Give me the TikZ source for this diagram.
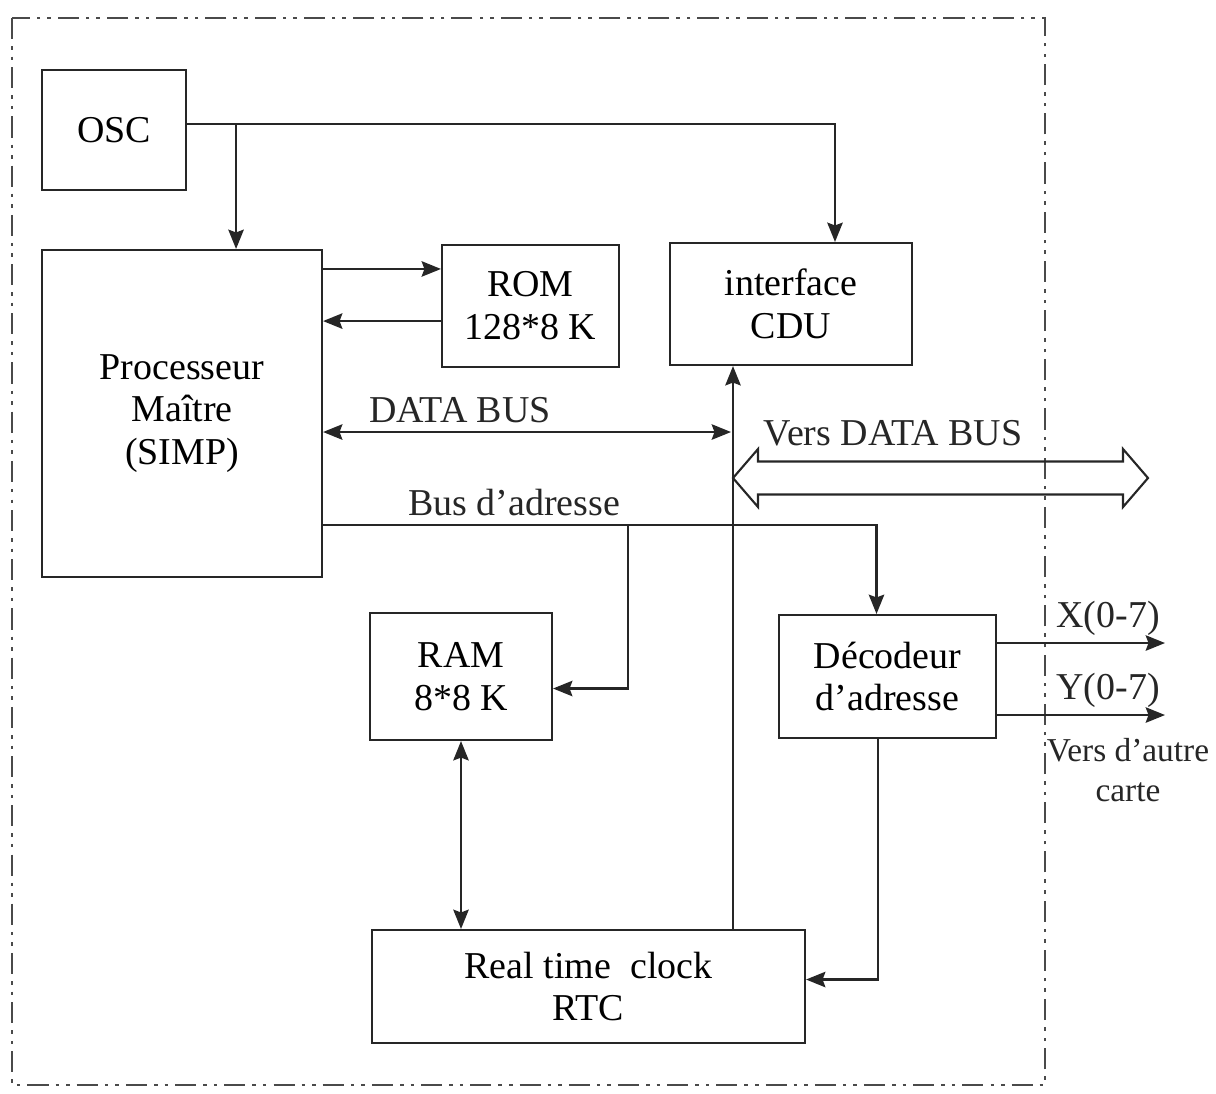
\documentclass[tikz,border=0pt]{standalone}
\usepackage{fontspec}
\setmainfont{Liberation Serif}
\usepackage{xcolor}
\usetikzlibrary{arrows.meta,positioning,calc}
\definecolor{ink}{HTML}{262626}
\definecolor{frame}{HTML}{4A4A4A}
\tikzset{
  blockbox/.style={
    rectangle, draw=ink, line width=0.6pt,
    minimum width=#1, align=center,
    font=\fontsize{10.8}{12.2}\selectfont, inner sep=2pt
  },
  blockbox/.default=2cm,
  sigarrow/.style={
    -{Stealth[length=5.5pt, width=4.4pt, inset=0.8pt]}, line width=0.6pt, color=ink
  },
  sigboth/.style={
    {Stealth[length=5.5pt, width=4.4pt, inset=0.8pt]}-{Stealth[length=5.5pt, width=4.4pt, inset=0.8pt]},
    line width=0.6pt, color=ink
  },
  hollowbus/.style={draw=ink, line width=0.6pt, line join=miter},
  labelnode/.style={
    font=\fontsize{10.8}{12.2}\selectfont, color=ink, align=center, inner sep=1pt
  },
  boardframe/.style={
    draw=frame, line width=0.5pt,
    dash pattern=on 6pt off 2pt on 1pt off 2pt on 1pt off 2pt
  },
}
\begin{document}
\begin{tikzpicture}
  \useasboundingbox (0,0) rectangle (12.16,-10.93);
  \draw[boardframe] (0.12,-0.18) rectangle (10.45,-10.85);
  \node[blockbox=1.44cm, minimum height=1.20cm] at (1.14,-1.30) (osc) {OSC};
  \node[blockbox=2.80cm, minimum height=3.27cm] at (1.82,-4.135) (proc) {Processeur\\Maître\\(SIMP)};
  \node[blockbox=1.77cm, minimum height=1.22cm] at (5.305,-3.06) (rom) {ROM\\128*8 K};
  \node[blockbox=2.42cm, minimum height=1.22cm] at (7.91,-3.04) (cdu) {interface\\CDU};
  \node[blockbox=1.82cm, minimum height=1.27cm] at (4.61,-6.765) (ram) {RAM\\8*8 K};
  \node[blockbox=2.17cm, minimum height=1.23cm] at (8.875,-6.765) (dec) {Décodeur\\d'adresse};
  \node[blockbox=4.33cm, minimum height=1.13cm] at (5.885,-9.865) (rtc) {Real time\ \ clock\\RTC};
  % horloge
  \draw[sigarrow] ([yshift=0.06cm]osc.east) -| ([xshift=0.44cm]cdu.north);
  \draw[sigarrow] ([xshift=0.49cm, yshift=0.06cm]osc.east) -- ([xshift=0.49cm]osc.east |- proc.north);
  % ROM
  \draw[sigarrow] ([yshift=-0.25cm]rom.north west -| proc.east) -- ([yshift=-0.25cm]rom.north west);
  \draw[sigarrow] ([yshift=0.47cm]rom.south west) -- ([yshift=0.47cm]rom.south west -| proc.east);
  % bus de donnees
  \coordinate (db) at (7.31,-4.32);
  \draw[sigboth] (db -| proc.east) -- (db);
  \node[labelnode] at (4.60,-4.10) (dblabel) {DATA BUS};
  \draw[sigarrow] ([xshift=-0.58cm]cdu.south |- rtc.north) -- ([xshift=-0.58cm]cdu.south);
  \coordinate (vb) at (7.33,-4.78);
  \draw[hollowbus] (vb) -- ++(0.25,0.29) -- ++(0,-0.125) -- ++(3.65,0) -- ++(0,0.125)
    -- ++(0.25,-0.29) -- ++(-0.25,-0.29) -- ++(0,0.125) -- ++(-3.65,0) -- ++(0,-0.125) -- cycle;
  \node[labelnode] at (8.93,-4.33) (vblabel) {Vers DATA BUS};
  % bus d'adresse
  \coordinate (ab) at (6.28,-5.25);
  \draw[sigarrow] (ab -| proc.east) -| ([xshift=-0.11cm]dec.north);
  \draw[sigarrow] (ab) |- ([yshift=-0.12cm]ram.east);
  \node[labelnode] at (5.14,-5.02) (ablabel) {Bus d'adresse};
  \draw[sigboth] (ram.south) -- (ram.south |- rtc.north);
  \draw[sigarrow] ([xshift=-0.095cm]dec.south) |- ([yshift=0.07cm]rtc.east);
  % sorties
  \coordinate (xout) at (11.65,-6.43);
  \coordinate (yout) at (11.65,-7.15);
  \draw[sigarrow] (xout -| dec.east) -- (xout);
  \draw[sigarrow] (yout -| dec.east) -- (yout);
  \node[labelnode] at (11.08,-6.18) (xlabel) {X(0-7)};
  \node[labelnode] at (11.08,-6.90) (ylabel) {Y(0-7)};
  \node[labelnode, font=\fontsize{9.5}{11.5}\selectfont] at (11.28,-7.70) (outlabel) {Vers d'autre\\carte};
\end{tikzpicture}
\end{document}
